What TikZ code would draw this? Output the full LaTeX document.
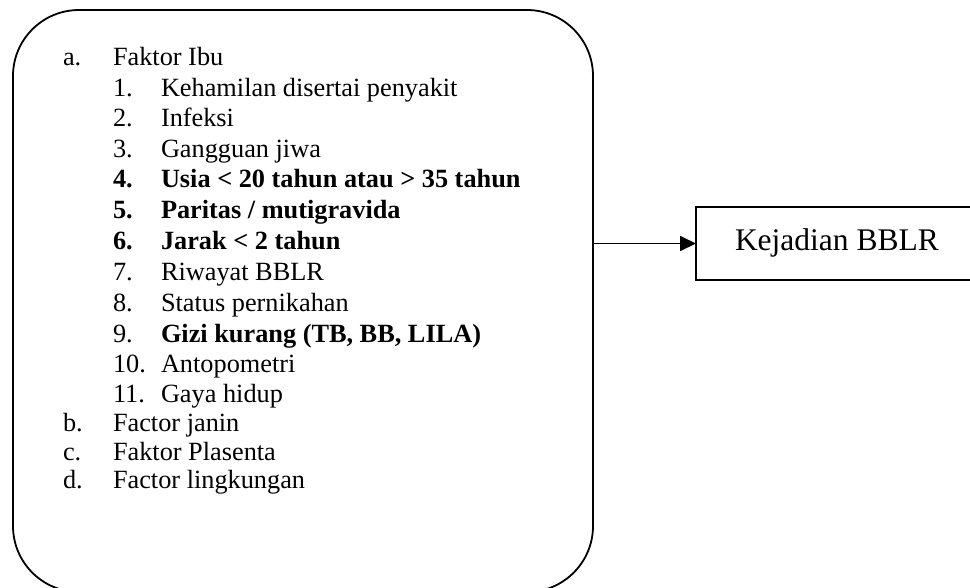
\documentclass[tikz,border=0pt]{standalone}
\usepackage{fontspec}
\setmainfont{Liberation Serif}
\usetikzlibrary{arrows.meta}
\begin{document}
\begin{tikzpicture}[x=1pt,y=-1pt,
  every node/.style={inner sep=0pt, outer sep=0pt},
  lst/.style={anchor=base west, font=\fontsize{26.3}{30}\selectfont},
  boxline/.style={draw=black, line width=1.8pt},
  conn/.style={line width=1.8pt, -{Triangle[length=16pt,width=15pt]}}]
\useasboundingbox (0,0) rectangle (970,587);
\fill[white] (0,0) rectangle (970,587);
% main rounded box
\node[boxline, rounded corners=66pt, minimum width=580pt, minimum height=582pt, anchor=north west] (main) at (13,10) {};
% list
\node[lst] (la) at (63,65) {a.};   \node[lst] (ta) at (113,65) {Faktor Ibu};
\node[lst] (l1) at (113,96) {1.};  \node[lst] (t1) at (161,96) {Kehamilan disertai penyakit};
\node[lst] (l2) at (113,126.5) {2.}; \node[lst] (t2) at (161,126.5) {Infeksi};
\node[lst] (l3) at (113,157) {3.}; \node[lst] (t3) at (161,157) {Gangguan jiwa};
\node[lst] (l4) at (113,187.5) {\bfseries 4.}; \node[lst] (t4) at (161,187.5) {\bfseries Usia < 20 tahun atau > 35 tahun};
\node[lst] (l5) at (113,218.5) {\bfseries 5.}; \node[lst] (t5) at (161,218.5) {\bfseries Paritas / mutigravida};
\node[lst] (l6) at (113,249.5) {\bfseries 6.}; \node[lst] (t6) at (161,249.5) {\bfseries Jarak < 2 tahun};
\node[lst] (l7) at (113,280) {7.}; \node[lst] (t7) at (161,280) {Riwayat BBLR};
\node[lst] (l8) at (113,311) {8.}; \node[lst] (t8) at (161,311) {Status pernikahan};
\node[lst] (l9) at (113,342) {9.}; \node[lst] (t9) at (161,342) {\bfseries Gizi kurang (TB, BB, LILA)};
\node[lst] (l10) at (113,372) {10.}; \node[lst] (t10) at (161,372) {Antopometri};
\node[lst] (l11) at (113,402) {11.}; \node[lst] (t11) at (161,402) {Gaya hidup};
\node[lst] (lb) at (63,431) {b.};  \node[lst] (tb) at (113,431) {Factor janin};
\node[lst] (lc) at (63,460) {c.};  \node[lst] (tc) at (113,460) {Faktor Plasenta};
\node[lst] (ld) at (63,488) {d.};  \node[lst] (td) at (113,488) {Factor lingkungan};
% outcome box
\node[boxline, line width=1.6pt, minimum width=300pt, minimum height=73pt, anchor=west] (kej) at (696,243.5) {};
\node[anchor=base west, font=\fontsize{31.5}{36}\selectfont] (kejt) at (735,250) {Kejadian BBLR};
% connector
\draw[conn] (main.east |- kej.west) -- (kej.west);
\end{tikzpicture}
\end{document}
